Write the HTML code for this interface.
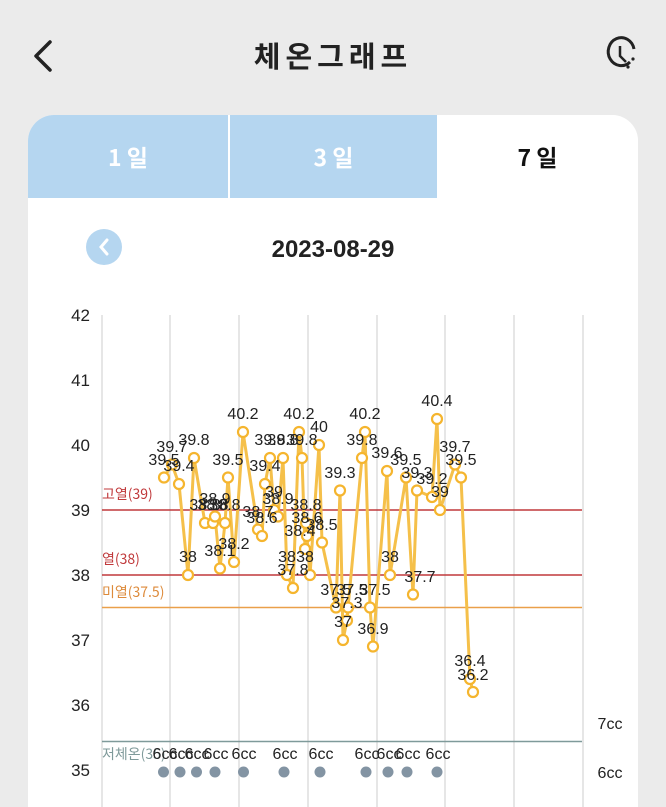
<!DOCTYPE html>
<html style="overflow:hidden;height:807px"><head><meta charset="utf-8"><style>
html,body{overflow:hidden}
body{margin:0;width:666px;height:807px;background:#ebebeb;font-family:"Liberation Sans","Noto Sans CJK KR",sans-serif;position:relative}
.card{position:absolute;left:28px;top:115px;width:610px;height:692px;background:#fff;border-radius:26px 26px 0 0;overflow:hidden}
.tab{position:absolute;top:0;height:83px;line-height:83px;text-align:center;font-size:23px;font-weight:bold;color:#fff;background:#b5d6f0}
</style></head><body>
<svg width="666" height="100" style="position:absolute;left:0;top:0">
<polyline points="50,42 36,56 50,70" fill="none" stroke="#222" stroke-width="3.5" stroke-linecap="round" stroke-linejoin="round"/>
<text x="333" y="67" text-anchor="middle" font-size="29" font-weight="bold" fill="#222" letter-spacing="5" font-family="Noto Sans CJK KR,sans-serif">체온그래프</text>
<path d="M630,62 A13,14 0 1 1 634,49" fill="none" stroke="#222" stroke-width="3"/>
<polyline points="620,46 620,56 626,62" fill="none" stroke="#222" stroke-width="2.5"/>
<circle cx="633" cy="59" r="1.6" fill="#222"/><circle cx="628" cy="67" r="1.6" fill="#222"/>
</svg>
<div class="card">
<div class="tab" style="left:0;width:200px;font-family:'Noto Sans CJK KR',sans-serif">1 일</div>
<div class="tab" style="left:202px;width:207px;font-family:'Noto Sans CJK KR',sans-serif">3 일</div>
<div class="tab" style="left:409px;width:201px;background:#fff;color:#111;font-family:'Noto Sans CJK KR',sans-serif">7 일</div>
</div>
<svg width="666" height="807" style="position:absolute;left:0;top:0" font-family="Liberation Sans,Noto Sans CJK KR,sans-serif">
<circle cx="104" cy="247" r="18" fill="#b5d6f0"/>
<polyline points="107,240 101,247 107,254" fill="none" stroke="#fff" stroke-width="3" stroke-linecap="round"/>
<text x="333" y="257" text-anchor="middle" font-size="24" font-weight="bold" fill="#222">2023-08-29</text>
<g stroke="#ddd" stroke-width="1.5">
<line x1="102" y1="315" x2="102" y2="807"/><line x1="170" y1="315" x2="170" y2="807"/><line x1="239" y1="315" x2="239" y2="807"/><line x1="308" y1="315" x2="308" y2="807"/><line x1="377" y1="315" x2="377" y2="807"/><line x1="445" y1="315" x2="445" y2="807"/><line x1="514" y1="315" x2="514" y2="807"/><line x1="583" y1="315" x2="583" y2="807"/>
</g>
<g font-size="17" fill="#222" text-anchor="end">
<text x="90" y="321">42</text><text x="90" y="386">41</text><text x="90" y="451">40</text><text x="90" y="516">39</text><text x="90" y="581">38</text><text x="90" y="646">37</text><text x="90" y="711">36</text><text x="90" y="776">35</text>
</g>
<line x1="102" y1="510" x2="582" y2="510" stroke="#c0393b" stroke-width="1.5"/>
<line x1="102" y1="575" x2="582" y2="575" stroke="#c0393b" stroke-width="1.5"/>
<line x1="102" y1="607.5" x2="582" y2="607.5" stroke="#eaa04a" stroke-width="1.5"/>
<line x1="102" y1="741.5" x2="582" y2="741.5" stroke="#7f9a9a" stroke-width="1.5"/>
<g font-size="14" font-family="Noto Sans CJK KR,sans-serif">
<text x="102" y="499" fill="#c0393b">고열(39)</text>
<text x="102" y="564" fill="#c0393b">열(38)</text>
<text x="102" y="597" fill="#dd8a3a">미열(37.5)</text>
<text x="102" y="759" fill="#7f9a9a">저체온(35)</text>
</g>
<polyline fill="none" stroke="#f5c04a" stroke-width="3" stroke-linejoin="round" points="164,477.5 172,464.5 179,484 188,575 194,458 205,523 213,523 215,516.5 220,568.5 225,523 228,477.5 234,562 243,432 258,529.5 262,536 265,484 270,458 274,510 278,516.5 283,458 287,575 293,588 299,432 302,458 305,549 306,523 307,536 310,575 319,445 322,542.5 336,607.5 340,490.5 343,640 347,620.5 348,607.5 362,458 365,432 370,607.5 373,646.5 387,471 390,575 406,477.5 413,594.5 417,490.5 432,497 437,419 440,510 455,464.5 461,477.5 470,679 473,692"/>
<g fill="#fff" stroke="#f5b52e" stroke-width="2.2">
<circle cx="164" cy="477.5" r="5"/><circle cx="172" cy="464.5" r="5"/><circle cx="179" cy="484" r="5"/><circle cx="188" cy="575" r="5"/><circle cx="194" cy="458" r="5"/><circle cx="205" cy="523" r="5"/><circle cx="213" cy="523" r="5"/><circle cx="215" cy="516.5" r="5"/><circle cx="220" cy="568.5" r="5"/><circle cx="225" cy="523" r="5"/><circle cx="228" cy="477.5" r="5"/><circle cx="234" cy="562" r="5"/><circle cx="243" cy="432" r="5"/><circle cx="258" cy="529.5" r="5"/><circle cx="262" cy="536" r="5"/><circle cx="265" cy="484" r="5"/><circle cx="270" cy="458" r="5"/><circle cx="274" cy="510" r="5"/><circle cx="278" cy="516.5" r="5"/><circle cx="283" cy="458" r="5"/><circle cx="287" cy="575" r="5"/><circle cx="293" cy="588" r="5"/><circle cx="299" cy="432" r="5"/><circle cx="302" cy="458" r="5"/><circle cx="305" cy="549" r="5"/><circle cx="306" cy="523" r="5"/><circle cx="307" cy="536" r="5"/><circle cx="310" cy="575" r="5"/><circle cx="319" cy="445" r="5"/><circle cx="322" cy="542.5" r="5"/><circle cx="336" cy="607.5" r="5"/><circle cx="340" cy="490.5" r="5"/><circle cx="343" cy="640" r="5"/><circle cx="347" cy="620.5" r="5"/><circle cx="348" cy="607.5" r="5"/><circle cx="362" cy="458" r="5"/><circle cx="365" cy="432" r="5"/><circle cx="370" cy="607.5" r="5"/><circle cx="373" cy="646.5" r="5"/><circle cx="387" cy="471" r="5"/><circle cx="390" cy="575" r="5"/><circle cx="406" cy="477.5" r="5"/><circle cx="413" cy="594.5" r="5"/><circle cx="417" cy="490.5" r="5"/><circle cx="432" cy="497" r="5"/><circle cx="437" cy="419" r="5"/><circle cx="440" cy="510" r="5"/><circle cx="455" cy="464.5" r="5"/><circle cx="461" cy="477.5" r="5"/><circle cx="470" cy="679" r="5"/><circle cx="473" cy="692" r="5"/>
</g>
<g font-size="16" fill="#222" text-anchor="middle">
<text x="164" y="465">39.5</text><text x="172" y="452">39.7</text><text x="179" y="471">39.4</text><text x="188" y="562">38</text><text x="194" y="445">39.8</text><text x="205" y="510">38.8</text><text x="213" y="510">38.8</text><text x="215" y="504">38.9</text><text x="220" y="556">38.1</text><text x="225" y="510">38.8</text><text x="228" y="465">39.5</text><text x="234" y="549">38.2</text><text x="243" y="419">40.2</text><text x="258" y="517">38.7</text><text x="262" y="523">38.6</text><text x="265" y="471">39.4</text><text x="270" y="445">39.8</text><text x="274" y="497">39</text><text x="278" y="504">38.9</text><text x="283" y="445">39.8</text><text x="287" y="562">38</text><text x="293" y="575">37.8</text><text x="299" y="419">40.2</text><text x="302" y="445">39.8</text><text x="300" y="536">38.4</text><text x="306" y="510">38.8</text><text x="307" y="523">38.6</text><text x="305" y="562">38</text><text x="319" y="432">40</text><text x="322" y="530">38.5</text><text x="336" y="595">37.5</text><text x="340" y="478">39.3</text><text x="343" y="627">37</text><text x="347" y="608">37.3</text><text x="352" y="595">37.5</text><text x="362" y="445">39.8</text><text x="365" y="419">40.2</text><text x="375" y="595">37.5</text><text x="373" y="634">36.9</text><text x="387" y="458">39.6</text><text x="390" y="562">38</text><text x="406" y="465">39.5</text><text x="420" y="582">37.7</text><text x="417" y="478">39.3</text><text x="432" y="484">39.2</text><text x="437" y="406">40.4</text><text x="440" y="497">39</text><text x="455" y="452">39.7</text><text x="461" y="465">39.5</text><text x="470" y="666">36.4</text><text x="473" y="680">36.2</text>
</g>
<g fill="#8394a3">
<circle cx="163.5" cy="772" r="5.5"/><circle cx="180" cy="772" r="5.5"/><circle cx="196.5" cy="772" r="5.5"/><circle cx="215" cy="772" r="5.5"/><circle cx="243.5" cy="772" r="5.5"/><circle cx="284" cy="772" r="5.5"/><circle cx="320" cy="772" r="5.5"/><circle cx="366" cy="772" r="5.5"/><circle cx="388" cy="772" r="5.5"/><circle cx="407" cy="772" r="5.5"/><circle cx="437" cy="772" r="5.5"/>
</g>
<g font-size="16" fill="#222" text-anchor="middle">
<text x="165" y="759">6cc</text><text x="181" y="759">6cc</text><text x="197" y="759">6cc</text><text x="216" y="759">6cc</text><text x="244" y="759">6cc</text><text x="285" y="759">6cc</text><text x="321" y="759">6cc</text><text x="367" y="759">6cc</text><text x="389" y="759">6cc</text><text x="408" y="759">6cc</text><text x="438" y="759">6cc</text>
<text x="610" y="729">7cc</text><text x="610" y="778">6cc</text>
</g>
</svg>
</body></html>
